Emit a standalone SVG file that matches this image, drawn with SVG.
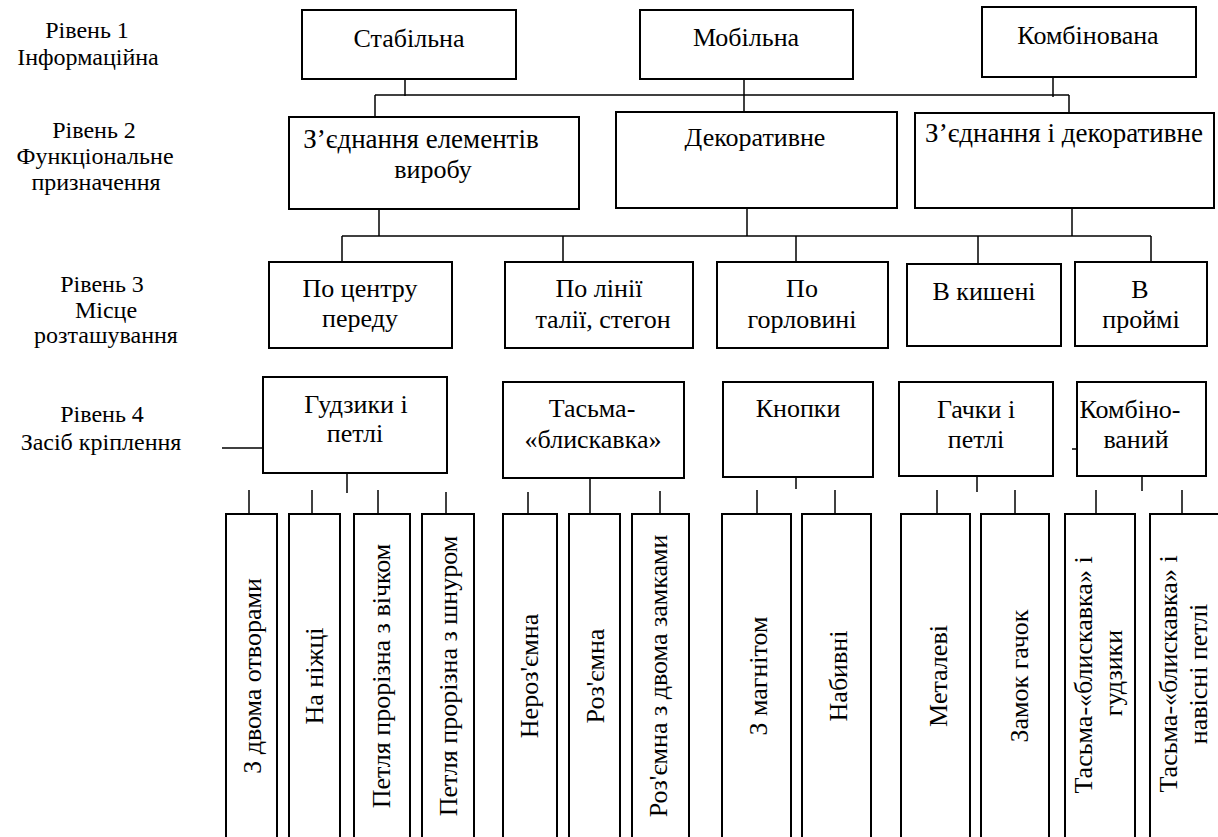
<svg xmlns="http://www.w3.org/2000/svg" width="1218" height="837" viewBox="0 0 1218 837" font-family="'Liberation Serif', 'Times New Roman', 'DejaVu Serif', serif">
<style>
.b{fill:#fff;stroke:#000;stroke-width:2}
.c line{stroke:#000;stroke-width:1.5}
text{font-family:'Liberation Serif','Times New Roman','DejaVu Serif',serif;font-size:26px;fill:#000;text-anchor:middle}
.l{font-size:24px}
.w{font-size:27px}
</style>
<rect width="1218" height="837" fill="#fff"/>
<g id="labels">
<text class="l" x="87" y="38">Рівень 1</text>
<text class="l" x="88" y="65">Інформаційна</text>
<text class="l" x="94" y="138">Рівень 2</text>
<text class="l" x="95" y="164">Функціональне</text>
<text class="l" x="96" y="190">призначення</text>
<text class="l" x="102" y="292">Рівень 3</text>
<text class="l" x="106" y="318">Місце</text>
<text class="l" x="106" y="343">розташування</text>
<text class="l" x="102" y="422">Рівень 4</text>
<text class="l" x="101" y="450">Засіб кріплення</text>
</g>
<g id="connectors" class="c">
<line x1="405" y1="79" x2="405" y2="96"/>
<line x1="375" y1="95" x2="1069" y2="95"/>
<line x1="375" y1="95" x2="375" y2="117"/>
<line x1="744" y1="79" x2="744" y2="112"/>
<line x1="1053" y1="77" x2="1053" y2="97"/>
<line x1="1069" y1="95" x2="1069" y2="113"/>
<line x1="379" y1="209" x2="379" y2="236"/>
<line x1="747" y1="208" x2="747" y2="236"/>
<line x1="1072" y1="208" x2="1072" y2="236"/>
<line x1="342" y1="236" x2="1151" y2="236"/>
<line x1="342" y1="236" x2="342" y2="262"/>
<line x1="563" y1="236" x2="563" y2="262"/>
<line x1="796" y1="236" x2="796" y2="262"/>
<line x1="978" y1="236" x2="978" y2="264"/>
<line x1="1151" y1="236" x2="1151" y2="262"/>
<line x1="222" y1="448" x2="263" y2="448"/>
<line x1="1072" y1="449" x2="1077" y2="449"/>
<line x1="347" y1="473" x2="347" y2="493"/>
<line x1="249" y1="490" x2="249" y2="514"/>
<line x1="312" y1="490" x2="312" y2="514"/>
<line x1="378" y1="490" x2="378" y2="514"/>
<line x1="446" y1="492" x2="446" y2="514"/>
<line x1="590" y1="478" x2="590" y2="514"/>
<line x1="528" y1="492" x2="528" y2="514"/>
<line x1="660" y1="491" x2="660" y2="514"/>
<line x1="796" y1="477" x2="796" y2="489"/>
<line x1="757" y1="490" x2="757" y2="514"/>
<line x1="835" y1="490" x2="835" y2="514"/>
<line x1="977" y1="476" x2="977" y2="492"/>
<line x1="937" y1="490" x2="937" y2="514"/>
<line x1="1015" y1="490" x2="1015" y2="514"/>
<line x1="1142" y1="476" x2="1142" y2="491"/>
<line x1="1096" y1="490" x2="1096" y2="514"/>
<line x1="1182" y1="490" x2="1182" y2="514"/>
</g>
<g id="n-stabilna"><rect class="b" x="302" y="10" width="214" height="69"/><text x="409" y="47">Стабільна</text></g>
<g id="n-mobilna"><rect class="b" x="640" y="10" width="213" height="69"/><text x="746" y="46">Мобільна</text></g>
<g id="n-kombinovana"><rect class="b" x="982" y="7" width="214" height="70"/><text x="1088" y="44">Комбінована</text></g>
<g id="n-zyednannia"><rect class="b" x="289" y="117" width="290" height="92"/><text class="w" x="421" y="148">З’єднання елементів</text><text x="433" y="178">виробу</text></g>
<g id="n-dekoratyvne"><rect class="b" x="616" y="112" width="281" height="96"/><text x="755" y="146">Декоративне</text></g>
<g id="n-zyed-dekor"><rect class="b" x="915" y="113" width="299" height="95"/><text class="w" x="1064" y="142">З’єднання і декоративне</text></g>
<g id="n-tsentr"><rect class="b" x="269" y="262" width="183" height="86"/><text x="360" y="297">По центру</text><text x="360" y="327">переду</text></g>
<g id="n-taliia"><rect class="b" x="505" y="262" width="188" height="86"/><text x="599" y="297">По лінії</text><text x="603" y="328">талії, стегон</text></g>
<g id="n-horlovyna"><rect class="b" x="717" y="262" width="171" height="86"/><text x="802" y="297">По</text><text x="802" y="328">горловині</text></g>
<g id="n-kysheni"><rect class="b" x="907" y="264" width="154" height="82"/><text x="984" y="300">В кишені</text></g>
<g id="n-proimi"><rect class="b" x="1075" y="262" width="132" height="84"/><text x="1140" y="298">В</text><text x="1141" y="328">проймі</text></g>
<g id="n-gudzyky"><rect class="b" x="263" y="377" width="184" height="96"/><text x="356" y="413">Гудзики і</text><text x="355" y="442">петлі</text></g>
<g id="n-tasma"><rect class="b" x="503" y="382" width="181" height="96"/><text x="592" y="417">Тасьма-</text><text x="593" y="448">«блискавка»</text></g>
<g id="n-knopky"><rect class="b" x="723" y="382" width="150" height="95"/><text x="798" y="417">Кнопки</text></g>
<g id="n-gachky"><rect class="b" x="899" y="382" width="154" height="94"/><text x="976" y="418">Гачки і</text><text x="976" y="448">петлі</text></g>
<g id="n-kombinovanyi"><rect class="b" x="1077" y="382" width="129" height="94"/><text x="1130" y="418">Комбіно-</text><text x="1136" y="448">ваний</text></g>
<g id="c1"><rect class="b" x="226" y="514" width="51" height="340"/><text transform="translate(261,676) rotate(-90)">З двома отворами</text></g>
<g id="c2"><rect class="b" x="289" y="514" width="51" height="340"/><text transform="translate(323,676) rotate(-90)">На ніжці</text></g>
<g id="c3"><rect class="b" x="354" y="514" width="56" height="340"/><text transform="translate(390,676) rotate(-90)">Петля прорізна з вічком</text></g>
<g id="c4"><rect class="b" x="422" y="514" width="52" height="340"/><text transform="translate(457,676) rotate(-90)">Петля прорізна з шнуром</text></g>
<g id="c5"><rect class="b" x="503" y="514" width="54" height="340"/><text transform="translate(538,676) rotate(-90)">Нероз'ємна</text></g>
<g id="c6"><rect class="b" x="569" y="514" width="51" height="340"/><text transform="translate(604,676) rotate(-90)">Роз'ємна</text></g>
<g id="c7"><rect class="b" x="632" y="514" width="57" height="340"/><text transform="translate(667,676) rotate(-90)">Роз'ємна з двома замками</text></g>
<g id="c8"><rect class="b" x="722" y="514" width="69" height="340"/><text transform="translate(767,676) rotate(-90)">З магнітом</text></g>
<g id="c9"><rect class="b" x="802" y="514" width="69" height="340"/><text transform="translate(847,676) rotate(-90)">Набивні</text></g>
<g id="c10"><rect class="b" x="901" y="514" width="69" height="340"/><text transform="translate(947,676) rotate(-90)">Металеві</text></g>
<g id="c11"><rect class="b" x="981" y="514" width="68" height="340"/><text transform="translate(1028,676) rotate(-90)">Замок гачок</text></g>
<g id="c12"><rect class="b" x="1065" y="514" width="70" height="340"/><text transform="translate(1092,675) rotate(-90)">Тасьма-«блискавка» і</text><text transform="translate(1122,673) rotate(-90)">гудзики</text></g>
<g id="c13"><rect class="b" x="1150" y="514" width="80" height="340"/><text transform="translate(1177,674) rotate(-90)">Тасьма-«блискавка» і</text><text transform="translate(1207,674) rotate(-90)">навісні петлі</text></g>
</svg>
